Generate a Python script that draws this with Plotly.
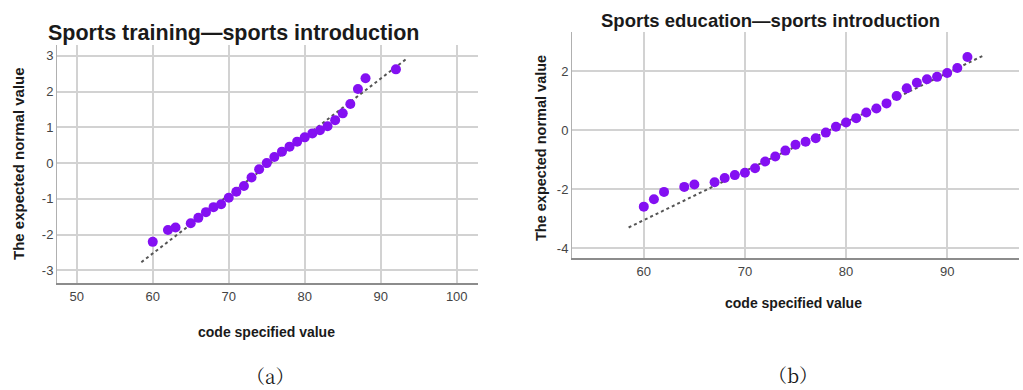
import plotly.graph_objects as go

# Panel (a): Sports training — sports introduction
train_x = [60, 62, 63, 65, 66, 67, 68, 69, 70, 71, 72, 73, 74, 75, 76, 77, 78, 79,
           80, 81, 82, 83, 84, 85, 86, 87, 88, 92]
train_y = [-2.20, -1.87, -1.80, -1.68, -1.53, -1.37, -1.23, -1.15, -0.97, -0.80, -0.64,
           -0.40, -0.17, 0.00, 0.17, 0.32, 0.46, 0.60, 0.72, 0.83, 0.92, 1.03, 1.20,
           1.39, 1.65, 2.07, 2.37, 2.62]
train_mean, train_sd = 75.5, 6.14

# Panel (b): Sports education — sports introduction
edu_x = [60, 61, 62, 64, 65, 67, 68, 69, 70, 71, 72, 73, 74, 75, 76, 77, 78, 79,
         80, 81, 82, 83, 84, 85, 86, 87, 88, 89, 90, 91, 92]
edu_y = [-2.60, -2.35, -2.10, -1.93, -1.85, -1.77, -1.63, -1.53, -1.45, -1.30, -1.07,
         -0.90, -0.70, -0.50, -0.40, -0.28, -0.09, 0.11, 0.25, 0.40, 0.59, 0.73, 0.90,
         1.15, 1.41, 1.60, 1.72, 1.80, 1.93, 2.10, 2.47]
edu_mean, edu_sd = 78.4, 6.02

line_x = [58.5, 93.5]

a_xticks = [50, 60, 70, 80, 90, 100]
a_yticks = [-3, -2, -1, 0, 1, 2, 3]
b_xticks = [60, 70, 80, 90]
b_yticks = [-4, -2, 0, 2]

MARK = "#8410f2"
GRID = "#d2d2d2"
TICKF = dict(family="Liberation Sans Narrow, Arial Narrow, Liberation Sans, sans-serif",
             size=13, color="#444444")


def labels(vals):
    # plain hyphen for negatives, as in SPSS output
    return [str(v) for v in vals]


fig = go.Figure()

fig.add_trace(go.Scatter(
    x=line_x, y=[(v - train_mean) / train_sd for v in line_x],
    mode="lines", line=dict(color="#555555", width=2, dash="dot"),
    xaxis="x", yaxis="y", showlegend=False, hoverinfo="skip"))
fig.add_trace(go.Scatter(
    x=train_x, y=train_y, mode="markers",
    marker=dict(color=MARK, size=10, line=dict(width=0)),
    xaxis="x", yaxis="y", showlegend=False))

fig.add_trace(go.Scatter(
    x=line_x, y=[(v - edu_mean) / edu_sd for v in line_x],
    mode="lines", line=dict(color="#555555", width=2, dash="dot"),
    xaxis="x2", yaxis="y2", showlegend=False, hoverinfo="skip"))
fig.add_trace(go.Scatter(
    x=edu_x, y=edu_y, mode="markers",
    marker=dict(color=MARK, size=10, line=dict(width=0)),
    xaxis="x2", yaxis="y2", showlegend=False))

common = dict(showgrid=True, gridcolor=GRID, gridwidth=1.5, zeroline=False,
              ticks="", tickfont=TICKF, showline=True, tickmode="array")

fig.update_layout(
    width=1023, height=390,
    margin=dict(l=0, r=0, t=0, b=0),
    paper_bgcolor="white", plot_bgcolor="white",
    xaxis=dict(domain=[57 / 1023, 478 / 1023], range=[47.4, 102.8],
               tickvals=a_xticks, ticktext=labels(a_xticks), anchor="y",
               linecolor="#8c8c8c", linewidth=2, **common),
    yaxis=dict(domain=[1 - 283 / 390, 1 - 45 / 390], range=[-3.35, 3.3],
               tickvals=a_yticks, ticktext=labels(a_yticks), anchor="x",
               linecolor="#b0b0b0", linewidth=1, **common),
    xaxis2=dict(domain=[572 / 1023, 1019 / 1023], range=[52.9, 97.1],
                tickvals=b_xticks, ticktext=labels(b_xticks), anchor="y2",
                linecolor="#8c8c8c", linewidth=2, **common),
    yaxis2=dict(domain=[1 - 258 / 390, 1 - 32 / 390], range=[-4.34, 3.32],
                tickvals=b_yticks, ticktext=labels(b_yticks), anchor="x2",
                linecolor="#b0b0b0", linewidth=1, **common),
)

bold = "Liberation Sans, Arial, sans-serif"
ann = [
    dict(text="<b>Sports training—sports introduction</b>", x=233, y=33,
         font=dict(family=bold, size=21.5, color="#1a1a1a")),
    dict(text="<b>Sports education—sports introduction</b>", x=770, y=20,
         font=dict(family=bold, size=18.5, color="#1a1a1a")),
    dict(text="<b>The expected normal value</b>", x=18, y=164, textangle=-90,
         font=dict(family=bold, size=15, color="#1a1a1a")),
    dict(text="<b>The expected normal value</b>", x=541, y=148, textangle=-90,
         font=dict(family=bold, size=14.5, color="#1a1a1a")),
    dict(text="<b>code specified value</b>", x=266, y=332,
         font=dict(family=bold, size=14, color="#1a1a1a")),
    dict(text="<b>code specified value</b>", x=793, y=303,
         font=dict(family=bold, size=14, color="#1a1a1a")),
    dict(text="（a）", x=270, y=375,
         font=dict(family="Noto Serif CJK SC, Liberation Serif, serif", size=19, color="#1a1a1a")),
    dict(text="（b）", x=793, y=374,
         font=dict(family="Noto Serif CJK SC, Liberation Serif, serif", size=19, color="#1a1a1a")),
]
for a in ann:
    fig.add_annotation(text=a["text"], x=a["x"] / 1023, y=1 - a["y"] / 390,
                       xref="paper", yref="paper", xanchor="center", yanchor="middle",
                       showarrow=False, font=a["font"],
                       textangle=a.get("textangle", 0))

fig.write_html("out.html")
